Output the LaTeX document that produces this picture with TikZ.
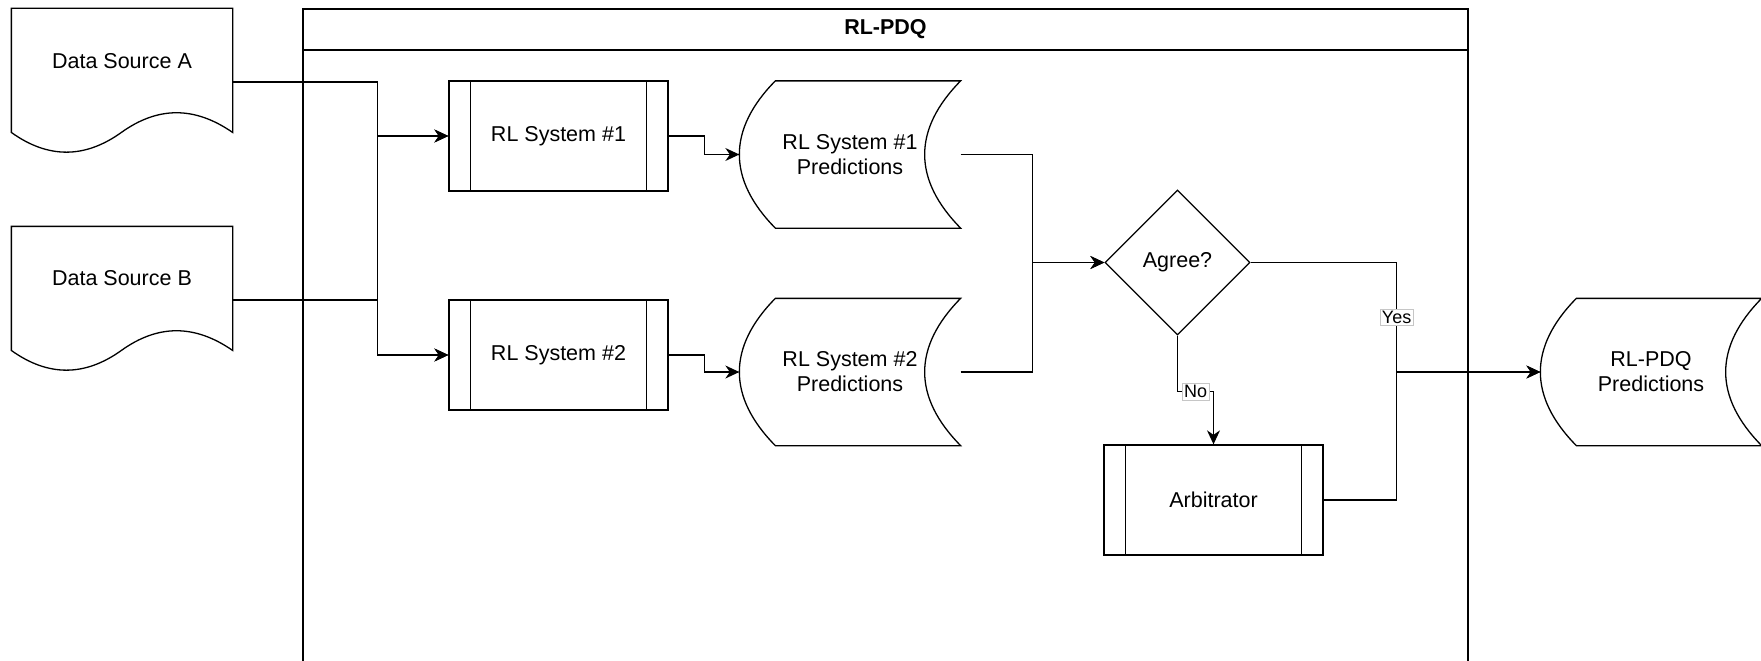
\documentclass[tikz,border=0pt]{standalone}
\usepackage{fontspec}
\setmainfont{Liberation Sans}
\usetikzlibrary{arrows.meta,shapes.geometric}
\newcommand\fsnorm{\fontsize{21.5}{25}\selectfont}
\newcommand\fsbold{\fontsize{21.5}{25}\selectfont\bfseries}
\newcommand\fslbl{\fontsize{18}{20}\selectfont}
\newcommand\drawdoc[1]{%
 \draw (#1.north west) -- (#1.north east) -- ([shift={(0,124.1)}]#1.north east)
   .. controls ([shift={(183.33,97.82)}]#1.north west) and ([shift={(146.67,97.82)}]#1.north west) .. ([shift={(110,124.1)}]#1.north west)
   .. controls ([shift={(73.33,150.38)}]#1.north west) and ([shift={(36.67,150.38)}]#1.north west) .. ([shift={(0,124.1)}]#1.north west) -- cycle;}
\newcommand\drawstore[1]{%
 \draw ([shift={(36,0)}]#1.north west) -- (#1.north east)
   .. controls ([shift={(-48,48.67)}]#1.north east) and ([shift={(-48,-48.67)}]#1.south east) .. (#1.south east)
   -- ([shift={(36,0)}]#1.south west)
   .. controls ([shift={(-12,-48.67)}]#1.south west) and ([shift={(-12,48.67)}]#1.north west) .. ([shift={(36,0)}]#1.north west) -- cycle;}
\newcommand\drawbars[1]{%
 \draw ([shift={(22,0)}]#1.north west) -- ([shift={(22,0)}]#1.south west);
 \draw ([shift={(-22,0)}]#1.north east) -- ([shift={(-22,0)}]#1.south east);}
\begin{document}
\begin{tikzpicture}[x=1pt,y=-1pt,line width=1.3pt,
  docbox/.style={rectangle,inner sep=0pt,minimum width=220pt,minimum height=146pt,font=\fsnorm},
  storebox/.style={rectangle,inner sep=0pt,minimum width=220pt,minimum height=146pt,font=\fsnorm,align=center},
  procbox/.style={rectangle,draw,inner sep=0pt,minimum width=219pt,minimum height=110pt,font=\fsnorm},
  decbox/.style={diamond,draw,aspect=1,inner sep=0pt,minimum width=145pt,minimum height=145pt,font=\fsnorm},
  arr/.style={-{Stealth[length=14pt,width=13pt,inset=4.5pt]}},
  lbl/.style={fill=white,draw=gray!45,line width=0.5pt,inner sep=2pt,font=\fslbl}]
\useasboundingbox (0,0) rectangle (1761,661);
% pool
\begin{scope}
\clip (0,0) rectangle (1761,661);
\draw (303,680) -- (303,9) -- (1468,9) -- (1468,680);
\draw (303,50) -- (1468,50);
\end{scope}
\node[font=\fsbold] (title) at (885.5,29.5) {RL-PDQ};
% data sources
\node[docbox,label={[yshift=21pt,font=\fsnorm]center:Data Source A}] (dsa) at (122,82) {};
\drawdoc{dsa}
\node[docbox,label={[yshift=22pt,font=\fsnorm]center:Data Source B}] (dsb) at (122,300) {};
\drawdoc{dsb}
% RL systems
\node[procbox] (rl1) at (558.5,136) {RL System \#1};
\drawbars{rl1}
\node[procbox] (rl2) at (558.5,355) {RL System \#2};
\drawbars{rl2}
% predictions
\node[storebox] (p1) at (850,154.5) {RL System \#1\\Predictions};
\drawstore{p1}
\node[storebox] (p2) at (850,372) {RL System \#2\\Predictions};
\drawstore{p2}
\node[storebox] (out) at (1651,372) {RL-PDQ\\Predictions};
\drawstore{out}
% decision and arbitrator
\node[decbox] (agree) at (1177.5,262.5) {Agree?};
\node[procbox] (arb) at (1213.5,500) {Arbitrator};
\drawbars{arb}
% connectors
\draw[arr] (dsa.east) -- ++(145,0) |- (rl1.west);
\draw[arr] (dsa.east) -- ++(145,0) |- (rl2.west);
\draw[arr] (dsb.east) -- ++(145,0) |- (rl1.west);
\draw[arr] (dsb.east) -- ++(145,0) |- (rl2.west);
\draw[arr] (rl1.east) -- ++(36,0) |- (p1.west);
\draw[arr] (rl2.east) -- ++(36,0) |- (p2.west);
\draw[arr] (p1.east) -- ++(72,0) |- (agree.west);
\draw[arr] (p2.east) -- ++(72,0) |- (agree.west);
\draw[arr] (arb.east) -- ++(73,0) |- (out.west);
\draw[arr] (agree.east) -- ++(146,0) |- node[lbl,pos=0.25] (yes) {Yes} (out.west);
\draw[arr] (agree.south) -- ++(0,56) -| node[lbl,pos=0.25] (no) {No} (arb.north);
\end{tikzpicture}
\end{document}
